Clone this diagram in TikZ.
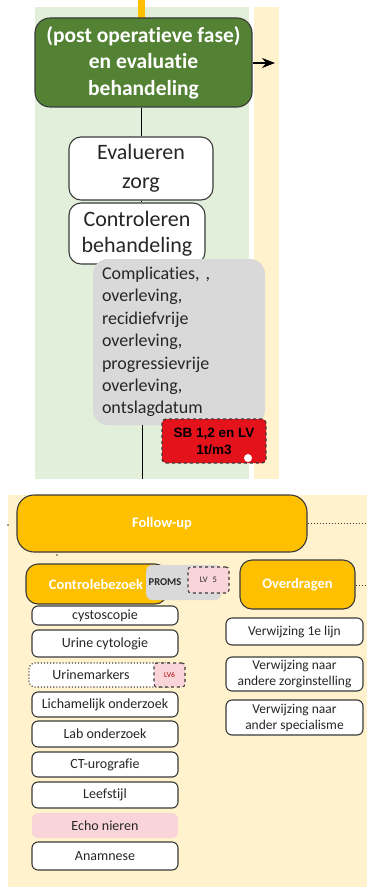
\documentclass[tikz,border=0pt]{standalone}
\usepackage{fontspec}
\setmainfont{Carlito}[Ligatures=NoCommon]
\newfontfamily\arialfont{Liberation Sans}
\usetikzlibrary{arrows.meta}
\definecolor{dkgreen}{HTML}{548235}
\definecolor{ltgreen}{HTML}{E2EFDA}
\definecolor{cream}{HTML}{FFF2CC}
\definecolor{orng}{HTML}{FFC000}
\definecolor{greybox}{HTML}{D9D9D9}
\definecolor{redbox}{HTML}{E3121B}
\definecolor{pinkbox}{HTML}{F9D5DA}
\definecolor{edge}{HTML}{3A3A3A}
\definecolor{txt}{HTML}{262626}
\tikzset{
  base/.style={draw=edge, line width=1.1pt, inner sep=0pt, align=center, text=txt},
  bigbox/.style={base, fill=white, rounded corners=12pt, font=\fontsize{22}{29}\selectfont},
  smallbox/.style={base, fill=white, rounded corners=6pt, minimum width=146pt, font=\fontsize{14}{15}\selectfont},
  rightbox/.style={base, fill=white, rounded corners=6pt, minimum width=137pt, font=\fontsize{13.5}{16}\selectfont},
  orangebox/.style={base, fill=orng, text=white, rounded corners=12pt, font=\bfseries\fontsize{14.5}{16}\selectfont},
  lvbox/.style={draw=edge, dashed, line width=1.1pt, fill=pinkbox, rounded corners=3pt, inner sep=0pt},
  conn/.style={draw=black, line width=0.9pt},
  dotline/.style={draw=edge, line width=1pt, dotted}
}
\begin{document}
\begin{tikzpicture}[x=1pt,y=-1pt]
\useasboundingbox (0,0) rectangle (367,888);
% backgrounds
\fill[ltgreen] (35,7) rectangle (249,479);
\fill[cream] (254,7) rectangle (279,479);
\fill[cream] (8,495) rectangle (367,887);
\fill[orng] (138,0) rectangle (145,18);
% top part
\node[base, fill=dkgreen, text=white, rounded corners=15pt, minimum width=217pt, minimum height=89pt,
      font=\bfseries\fontsize{21.5}{26.5}\selectfont] (post) at (143.5,62.5)
  {(post operatieve fase)\\en evaluatie\\behandeling};
\coordinate (arrowend) at (275,63);
\draw[conn, line width=1.2pt, -{Stealth[length=13pt,width=10pt]}] (post.east |- arrowend) -- (arrowend);
\node[bigbox, minimum width=144pt, minimum height=63pt] (eval) at (141,168.5) {Evalueren\\zorg};
\node[bigbox, minimum width=136pt, minimum height=61pt, font=\fontsize{22}{26}\selectfont] (contr) at (137,233.5) {Controleren\\behandeling};
\draw[conn] (post.south -| eval.north) -- (eval.north);
\draw[conn] (eval.south) -- (eval.south |- contr.north);
\node[fill=greybox, rounded corners=15pt, minimum width=172pt, minimum height=166pt, inner xsep=9pt, inner ysep=0pt,
      text width=154pt, align=left, text=txt, font=\fontsize{18}{22.4}\selectfont] (grey) at (179,342)
  {Complicaties, ,\\overleving,\\recidiefvrije\\overleving,\\progressievrije\\overleving,\\ontslagdatum};
\coordinate (greyend) at (142,479);
\draw[conn] (greyend |- grey.south) -- (greyend);
\node[draw=edge, dashed, line width=1.3pt, fill=redbox, rounded corners=4pt, minimum width=104pt, minimum height=44pt,
      inner sep=0pt, align=center, font=\arialfont\bfseries\fontsize{13.5}{17}\selectfont] (sb) at (214,441)
  {SB 1,2 en LV\\1t/m3};
\fill[white] (248,458) circle (4);
% bottom part
\node[orangebox, minimum width=290pt, minimum height=57pt, rounded corners=17pt] (fu) at (162,523.5) {Follow-up};
\coordinate (furight) at (367,523);
\draw[dotline] (fu.east |- furight) -- (furight);
\fill[edge] (8,525) circle (0.8);
\fill[edge] (57,555) circle (0.8);
\node[orangebox, minimum width=141pt, minimum height=40pt] (cb) at (96.5,584) {Controlebezoek\hspace{1pt}};
\node[fill=greybox, rounded corners=6pt, anchor=west, minimum height=35pt, inner xsep=2.5pt, inner ysep=0pt, text width=70pt,
      align=left, text=txt, font=\bfseries\fontsize{10.5}{12}\selectfont] (proms) at (146,582.5) {PROMS};
\node[lvbox, minimum width=41pt, minimum height=26pt, text=txt, font=\fontsize{8.5}{9}\selectfont] (lv5) at (208.5,580) {LV\hspace{5pt}5};
\node[orangebox, minimum width=115pt, minimum height=49pt] (ov) at (297.5,584.5) {Overdragen};
\coordinate (ovright) at (367,585);
\draw[dotline] (ov.east |- ovright) -- (ovright);
% left column
\node[smallbox, minimum height=19pt] (cys) at (105,615.5) {cystoscopie};
\node[smallbox, minimum height=27pt] (uc) at (105,643.5) {Urine cytologie};
\node[smallbox, minimum height=24pt, dotted] (um) at (102,675) {Urinemarkers\hspace{22pt}};
\node[lvbox, minimum width=31pt, minimum height=24pt, text=red!70!black, font=\fontsize{7.5}{8}\selectfont] (lv6) at (169.5,675) {LV6};
\node[smallbox, minimum height=25pt] (lich) at (105,704.5) {Lichamelijk onderzoek};
\node[smallbox, minimum height=26pt] (lab) at (105,734) {Lab onderzoek};
\node[smallbox, minimum height=25pt] (ct) at (105,764.5) {CT-urografie};
\node[smallbox, minimum height=26pt] (leef) at (105,795) {Leefstijl};
\node[smallbox, draw=none, fill=pinkbox, minimum height=25pt] (echo) at (105,825.5) {Echo nieren};
\node[smallbox, minimum height=28pt] (anam) at (105,856) {Anamnese};
% right column
\node[rightbox, minimum height=27pt] (v1) at (294.5,631.5) {Verwijzing 1e lijn};
\node[rightbox, minimum height=34pt] (v2) at (294.5,674) {Verwijzing naar\\andere zorginstelling};
\node[rightbox, minimum height=35pt] (v3) at (294.5,717.5) {Verwijzing naar\\ander specialisme};
\end{tikzpicture}
\end{document}
